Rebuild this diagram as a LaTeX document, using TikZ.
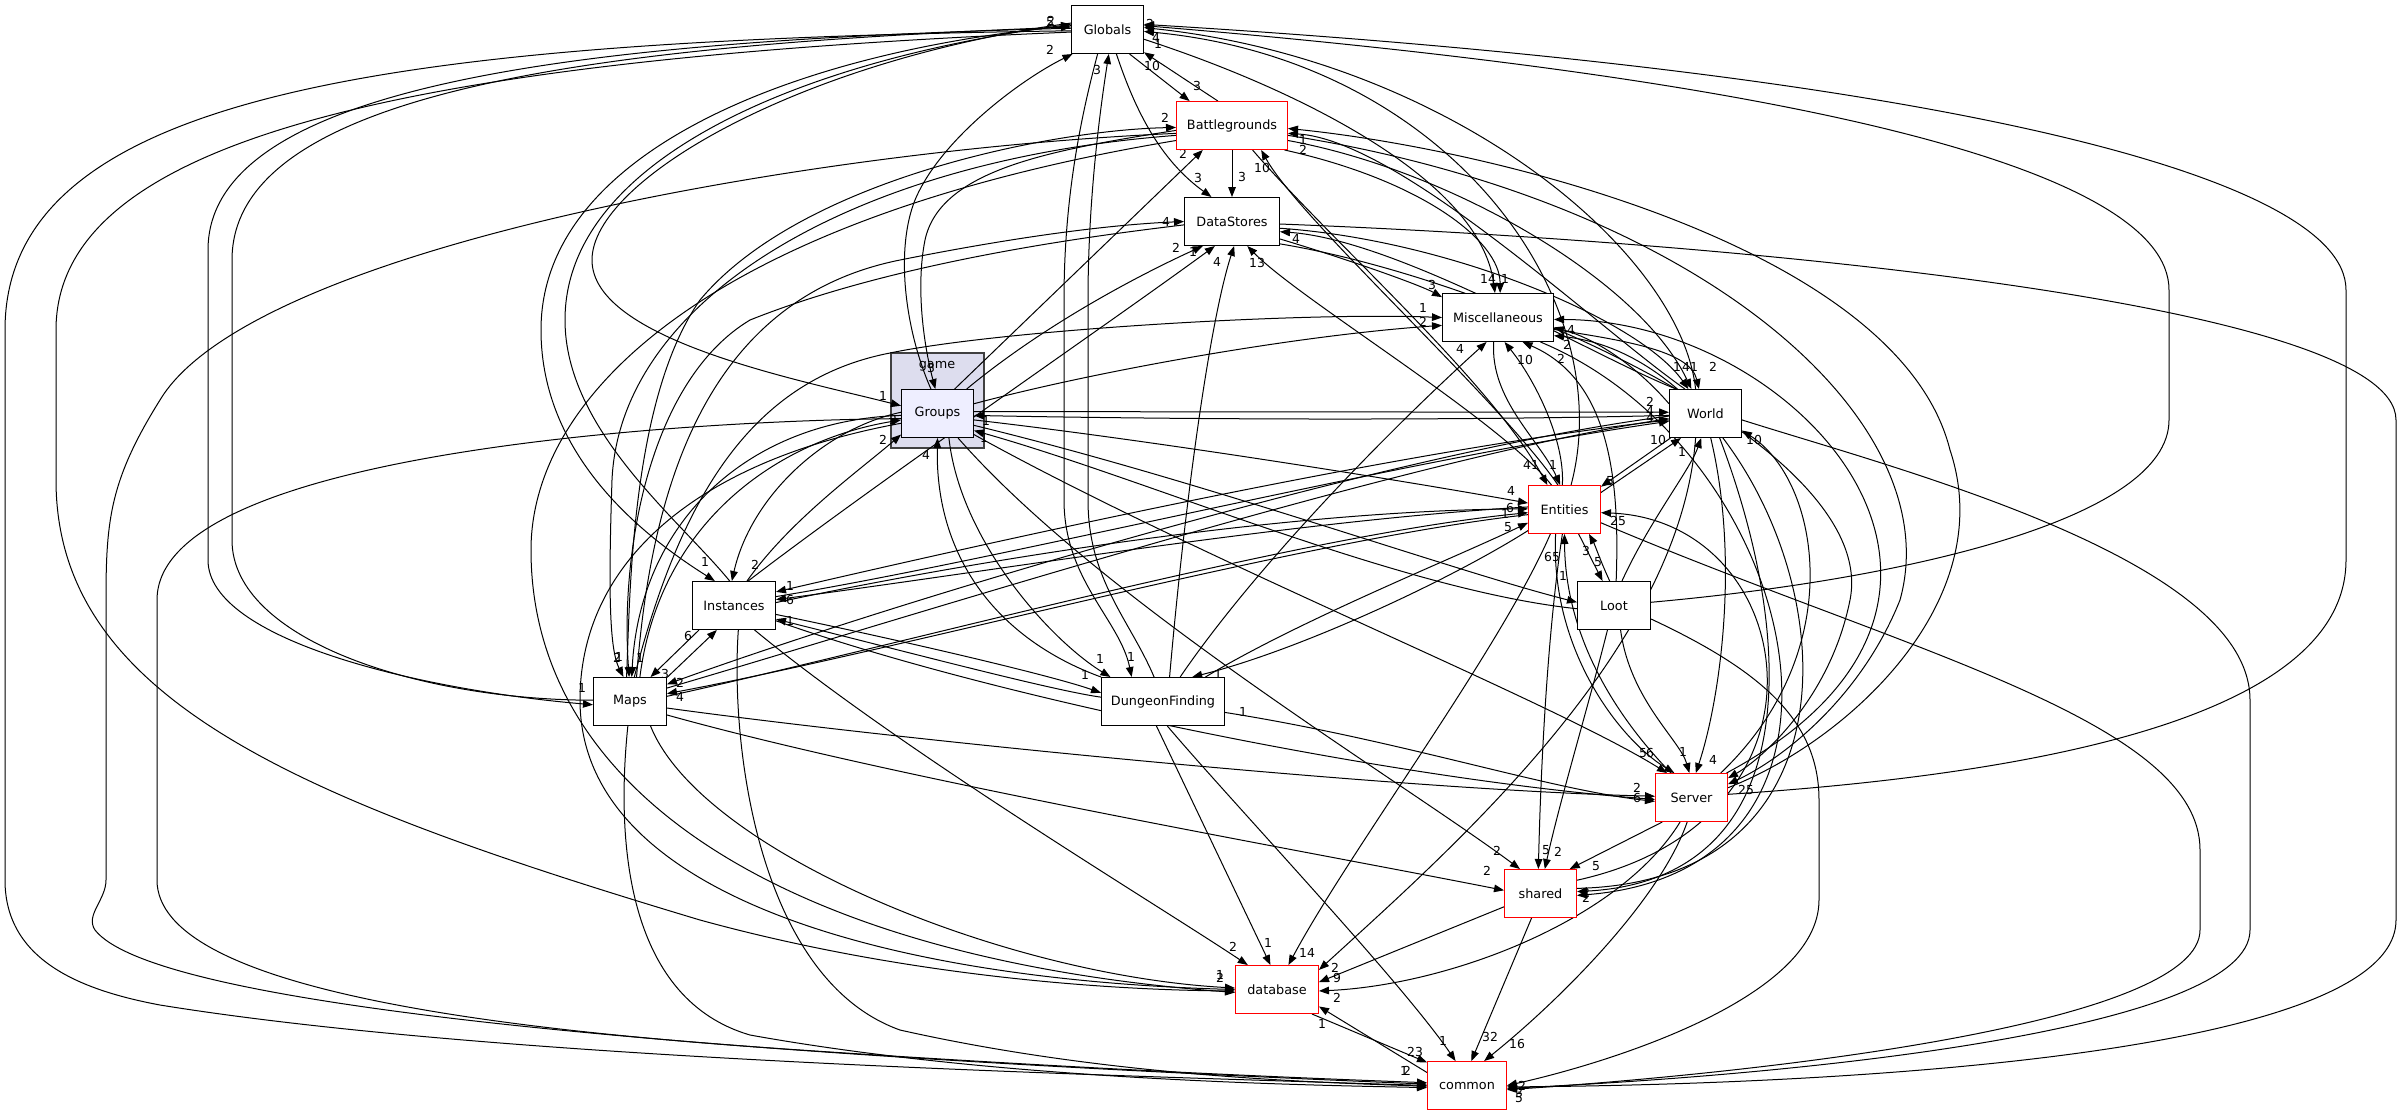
\documentclass[tikz,border=0pt]{standalone}
\usepackage{fontspec}
\setmainfont{DejaVu Sans}
\usetikzlibrary{arrows.meta}
\newcommand\dirfont{\fontsize{6.4}{7.5}\selectfont}
\newcommand\lblfont{\fontsize{6.2}{7}\selectfont}
\definecolor{clusterfill}{RGB}{221,221,238}
\definecolor{focusfill}{RGB}{238,238,255}
\pgfdeclarelayer{fg}
\pgfsetlayers{main,fg}
\begin{document}
\begin{tikzpicture}[x=0.5pt,y=-0.5pt,
  box/.style={draw=black, fill=white, minimum height=24pt, inner sep=0pt, font=\dirfont, line width=0.5pt},
  redbox/.style={box, draw=red},
  e/.style={line width=0.5pt, -{Triangle[length=5pt,width=3.8pt]}},
  lbl/.style={font=\lblfont, inner sep=0pt}]
\useasboundingbox (0,0) rectangle (2400,1115);
\fill[white] (0,0) rectangle (2400,1115);
% cluster
\node[draw=black!75, fill=clusterfill, line width=0.6pt, minimum width=46.5pt, minimum height=47.5pt, inner sep=0pt] (gamebox) at (937.5,400.5) {};
\node[font=\dirfont, inner sep=0pt] (gamelbl) at (937,366) {game};
% nodes
\begin{pgfonlayer}{fg}
\node[box, minimum width=36pt] (G) at (1107.5,29.5) {Globals};
\node[redbox, minimum width=55.5pt] (B) at (1232,125.5) {Battlegrounds};
\node[box, minimum width=47.5pt] (D) at (1232,221.5) {DataStores};
\node[box, minimum width=55.5pt] (M) at (1498,317.5) {Miscellaneous};
\node[box, fill=focusfill, minimum width=36pt] (Gr) at (937.5,413.5) {Groups};
\node[box, minimum width=36pt] (W) at (1705.5,413.5) {World};
\node[redbox, minimum width=36pt] (E) at (1564.5,509.5) {Entities};
\node[box, minimum width=36.5pt] (L) at (1614,605.5) {Loot};
\node[box, minimum width=41.5pt] (I) at (734,605.5) {Instances};
\node[box, minimum width=36.5pt] (Mp) at (630,701.5) {Maps};
\node[box, minimum width=61.5pt] (DF) at (1163,701.5) {DungeonFinding};
\node[redbox, minimum width=36pt] (S) at (1691.5,797.5) {Server};
\node[redbox, minimum width=36pt] (Sh) at (1540.5,893.5) {shared};
\node[redbox, minimum width=41.5pt] (Db) at (1277,989.5) {database};
\node[redbox, minimum width=39.5pt] (C) at (1467,1085.5) {common};
\end{pgfonlayer}

% ---- Globals <-> Battlegrounds / DataStores / DungeonFinding / Groups
\draw[e] (G.-48) -- (B.150);
\draw[e] (B.120) -- (G.-32);
\draw[e] (G.-70) .. controls (1135,110) and (1160,160) .. (D.130);
\draw[e] (B) -- (D);
\draw[e] (G.-112) .. controls (1080,120) and (1064,200) .. (1064,300) -- (1064,500) .. controls (1064,580) and (1120,620) .. (DF.142);
\draw[e] (DF.110) .. controls (1130,620) and (1088,580) .. (1088,500) -- (1088,300) .. controls (1088,200) and (1100,110) .. (G.-87);
\draw[e] (Gr.105) .. controls (905,330) and (895,250) .. (915,200) .. controls (940,140) and (1020,80) .. (G.-145);
\draw[e] (B.185) .. controls (1050,150) and (940,170) .. (925,240) .. controls (915,290) and (925,350) .. (Gr.95);
\draw[e] (Gr.55) -- (B.-140);

% ---- long left curves
\draw[e] (G.178) .. controls (600,40) and (208,80) .. (208,250) -- (208,560) .. controls (208,640) and (420,690) .. (Mp.185);
\draw[e] (Mp.178) .. controls (420,700) and (232,640) .. (232,540) -- (232,260) .. controls (232,90) and (600,45) .. (G.176);
\draw[e] (G.174) .. controls (800,50) and (541,150) .. (541,330) .. controls (541,460) and (650,540) .. (I.128);
\draw[e] (I.100) .. controls (680,520) and (565,430) .. (565,320) .. controls (565,160) and (800,60) .. (G.172);
\draw[e] (G.170) .. controls (800,60) and (592,180) .. (592,260) .. controls (592,340) and (800,380) .. (Gr.168);
\draw[e] (G.182) .. controls (400,40) and (5,90) .. (5,330) -- (5,880) .. controls (5,960) and (80,990) .. (160,1005) .. controls (500,1060) and (1100,1075) .. (C.180);
\draw[e] (G.184) .. controls (400,60) and (56,140) .. (56,330) -- (56,480) .. controls (56,700) and (300,800) .. (700,920) .. controls (900,975) and (1100,990) .. (Db.182);
\draw[e] (B.188) .. controls (800,150) and (250,250) .. (160,400) .. controls (110,480) and (106,520) .. (106,600) -- (106,880) .. controls (106,900) and (85,915) .. (95,930) .. controls (150,1000) and (600,1050) .. (C.178);
\draw[e] (Gr.188) .. controls (700,420) and (157,450) .. (157,600) -- (157,880) .. controls (157,990) and (500,1030) .. (800,1050) .. controls (1100,1070) and (1300,1078) .. (C.176);
\draw[e] (Mp.-95) .. controls (615,850) and (630,1000) .. (750,1035) .. controls (1000,1080) and (1300,1085) .. (C.183);
\draw[e] (I.-80) .. controls (730,750) and (760,980) .. (900,1030) .. controls (1100,1075) and (1300,1082) .. (C.181);

% ---- Maps <-> Battlegrounds / DataStores
\draw[e] (B.190) .. controls (850,160) and (620,300) .. (612,480) .. controls (608,600) and (610,650) .. (Mp.105);
\draw[e] (Mp.98) .. controls (630,600) and (630,400) .. (700,300) .. controls (800,180) and (1050,130) .. (B.182);
\draw[e] (Mp.75) .. controls (650,500) and (700,300) .. (900,260) .. controls (1000,240) and (1100,225) .. (D.180);
\draw[e] (D.184) .. controls (1100,235) and (900,260) .. (750,320) .. controls (650,380) and (620,550) .. (Mp.92);

% ---- Miscellaneous / World tops
\draw[e] (B.-15) .. controls (1450,170) and (1640,280) .. (W.120);
\draw[e] (D.-8) .. controls (1450,240) and (1640,320) .. (W.125);
\draw[e] (M.-12) .. controls (1620,340) and (1690,350) .. (W.105);
\draw[e] (G.-15) .. controls (1300,90) and (1480,180) .. (M.97);
\draw[e] (B.-25) .. controls (1420,180) and (1500,240) .. (M.85);
\draw[e] (D.-20) .. controls (1350,260) and (1420,285) .. (M.160);
\draw[e] (W.112) .. controls (1680,250) and (1450,60) .. (G.3);
\draw[e] (E.75) .. controls (1620,300) and (1450,60) .. (G.-3);
\draw[e] (W.130) .. controls (1600,330) and (1400,140) .. (B.-8);
\draw[e] (W.140) .. controls (1600,360) and (1400,240) .. (D.-12);
\draw[e] (E.105) .. controls (1500,400) and (1300,220) .. (B.-40);
\draw[e] (B.-50) .. controls (1330,240) and (1490,380) .. (E.125);
\draw[e] (E.118) .. controls (1500,420) and (1300,300) .. (D.-58);
\draw[e] (M.-100) .. controls (1490,400) and (1540,440) .. (E.100);
\draw[e] (E.95) .. controls (1565,440) and (1535,380) .. (M.-75);
\draw[e] (DF.55) .. controls (1260,560) and (1400,420) .. (M.-115);
\draw[e] (L.85) .. controls (1620,480) and (1610,380) .. (M.-45);
\draw[e] (W.165) .. controls (1640,370) and (1600,340) .. (M.-10);
\draw[e] (Gr.15) .. controls (1100,370) and (1300,335) .. (M.188);
\draw[e] (Mp.80) .. controls (680,500) and (750,380) .. (890,353) .. controls (1000,330) and (1300,312) .. (M.180);
\draw[e] (Sh.8) .. controls (1950,880) and (1800,360) .. (M.-18);
\draw[e] (S.35) .. controls (2050,600) and (1800,320) .. (M.-2);

% ---- World left
\draw[e] (Gr.3) -- (W.178);
\draw[e] (W.183) .. controls (1400,422) and (1100,418) .. (Gr.-3);
\draw[e] (Mp.20) .. controls (900,620) and (1400,460) .. (W.-172);
\draw[e] (W.-176) .. controls (1400,450) and (900,600) .. (Mp.25);
\draw[e] (I.12) .. controls (1000,560) and (1400,460) .. (W.-168);
\draw[e] (W.-170) .. controls (1400,450) and (1000,540) .. (I.18);

% ---- Entities left
\draw[e] (Gr.-10) .. controls (1150,440) and (1400,480) .. (E.170);
\draw[e] (E.176) .. controls (1300,520) and (1000,570) .. (I.8);
\draw[e] (I.4) .. controls (1000,555) and (1300,510) .. (E.179);
\draw[e] (E.-172) .. controls (1300,540) and (900,650) .. (Mp.12);
\draw[e] (Mp.8) .. controls (900,645) and (1300,535) .. (E.-175);
\draw[e] (E.-150) .. controls (1450,580) and (1300,650) .. (DF.40);
\draw[e] (DF.30) .. controls (1300,620) and (1450,560) .. (E.-160);

% ---- Entities / World / Loot / Server
\draw[e] (W.-145) -- (E.32);
\draw[e] (E.25) -- (W.-135);
\draw[e] (L.72) .. controls (1650,520) and (1690,470) .. (W.-100);
\draw[e] (S.40) .. controls (1850,650) and (1820,480) .. (W.-25);
\draw[e] (W.-78) .. controls (1740,560) and (1720,700) .. (S.80);
\draw[e] (Sh.20) .. controls (1850,820) and (1800,520) .. (E.-5);
\draw[e] (S.130) .. controls (1600,700) and (1565,620) .. (E.-90);
\draw[e] (E.-60) -- (L.115);
\draw[e] (L.100) .. controls (1600,560) and (1595,545) .. (E.-45);
\draw[e] (Gr.-18) .. controls (1200,480) and (1450,570) .. (L.175);
\draw[e] (L.185) .. controls (1400,590) and (1150,480) .. (Gr.-25);
\draw[e] (L.-75) .. controls (1630,700) and (1680,740) .. (S.95);
\draw[e] (E.-110) .. controls (1550,650) and (1620,740) .. (S.125);
\draw[e] (Gr.-30) .. controls (1200,560) and (1550,700) .. (S.135);
\draw[e] (B.-10) .. controls (1700,200) and (1950,420) .. (1900,600) .. controls (1860,700) and (1780,760) .. (S.20);
\draw[e] (S.15) .. controls (1850,740) and (2000,600) .. (1950,450) .. controls (1900,250) and (1500,150) .. (B.-3);
\draw[e] (D.-25) .. controls (1500,280) and (1880,450) .. (1850,600) .. controls (1830,700) and (1760,760) .. (S.28);

% ---- Server left
\draw[e] (Mp.-10) .. controls (900,740) and (1400,790) .. (S.178);
\draw[e] (I.-20) .. controls (1000,700) and (1400,780) .. (S.183);
\draw[e] (DF.-10) .. controls (1400,740) and (1550,790) .. (S.186);

% ---- Groups / Maps / Instances / DungeonFinding
\draw[e] (Mp.68) .. controls (660,520) and (780,440) .. (Gr.190);
\draw[e] (Gr.183) .. controls (750,420) and (640,520) .. (Mp.86);
\draw[e] (I.62) .. controls (790,520) and (860,470) .. (Gr.-150);
\draw[e] (Gr.178) .. controls (820,430) and (750,500) .. (I.95);
\draw[e] (Gr.-65) .. controls (960,540) and (1050,640) .. (DF.155);
\draw[e] (DF.north west) .. controls (1000,640) and (935,560) .. (Gr.-90);
\draw[e] (Gr.40) .. controls (1050,320) and (1150,270) .. (D.-140);
\draw[e] (I.60) .. controls (880,480) and (1100,330) .. (D.-125);
\draw[e] (DF.75) .. controls (1185,500) and (1210,320) .. (D.-85);
\draw[e] (I.-145) -- (Mp.50);
\draw[e] (Mp.33) -- (I.-125);
\draw[e] (I.-12) .. controls (900,640) and (1050,675) .. (DF.172);
\draw[e] (DF.176) .. controls (1050,690) and (900,650) .. (I.-18);

% ---- shared
\draw[e] (Gr.-50) .. controls (1100,600) and (1400,780) .. (Sh.130);
\draw[e] (Mp.-20) .. controls (900,780) and (1300,850) .. (Sh.175);
\draw[e] (E.-95) .. controls (1545,650) and (1540,800) .. (Sh.95);
\draw[e] (L.-105) .. controls (1590,700) and (1560,800) .. (Sh.80);
\draw[e] (S.-140) -- (Sh.40);
\draw[e] (W.-60) .. controls (1800,650) and (1800,880) .. (Sh.3);
\draw[e] (M.-30) .. controls (1800,450) and (1900,870) .. (Sh.-3);

% ---- database
\draw[e] (I.-50) .. controls (900,750) and (1150,900) .. (Db.140);
\draw[e] (DF.-105) -- (Db.105);
\draw[e] (E.-120) .. controls (1500,650) and (1350,850) .. (Db.65);
\draw[e] (W.-112) .. controls (1680,650) and (1450,850) .. (Db.25);
\draw[e] (Sh.-160) -- (Db.10);
\draw[e] (S.-115) .. controls (1620,920) and (1450,985) .. (Db.-2);
\draw[e] (Mp.-50) .. controls (700,850) and (1000,975) .. (Db.178);
\draw[e] (B.195) .. controls (700,220) and (531,400) .. (531,550) .. controls (531,800) and (800,960) .. (Db.184);
\draw[e] (Gr.195) .. controls (700,460) and (580,560) .. (580,700) .. controls (580,900) and (900,980) .. (Db.180);

% ---- common
\draw[e] (Db.-35) -- (C.150);
\draw[e] (C.162) -- (Db.-22);
\draw[e] (DF.-80) .. controls (1230,800) and (1400,980) .. (C.115);
\draw[e] (Sh.-110) -- (C.80);
\draw[e] (S.-100) .. controls (1660,900) and (1560,1000) .. (C.55);
\draw[e] (D.-3) .. controls (1700,240) and (2396,300) .. (2396,420) -- (2396,920) .. controls (2396,1060) and (1800,1085) .. (C.-2);
\draw[e] (W.-10) .. controls (1900,470) and (2250,560) .. (2250,700) -- (2250,930) .. controls (2250,1030) and (1800,1075) .. (C.-4);
\draw[e] (E.-20) .. controls (1900,650) and (2200,720) .. (2200,850) -- (2200,930) .. controls (2200,1020) and (1800,1070) .. (C.-6);
\draw[e] (L.-20) .. controls (1760,670) and (1819,720) .. (1819,800) -- (1819,900) .. controls (1819,1000) and (1600,1065) .. (C.0);

% ---- right long curves to Globals
\draw[e] (S.5) .. controls (2100,770) and (2346,700) .. (2346,560) -- (2346,290) .. controls (2346,170) and (1900,70) .. (G.8);
\draw[e] (L.5) .. controls (1900,580) and (2169,520) .. (2169,420) -- (2169,290) .. controls (2169,170) and (1800,80) .. (G.6);

% ---- labels
\node[lbl] (t1) at (1197,86) {3};
\node[lbl] (t2) at (1152,66) {10};
\node[lbl] (t3) at (1198,178) {3};
\node[lbl] (t4) at (1242,177) {3};
\node[lbl] (t5) at (1131,657) {1};
\node[lbl] (t6) at (1097,70) {3};
\node[lbl] (t7) at (1050,50) {2};
\node[lbl] (t8) at (931,368) {3};
\node[lbl] (t9) at (1183,154) {2};
\node[lbl] (t10) at (582,688) {1};
\node[lbl] (t11) at (1050,22) {5};
\node[lbl] (t12) at (1051,21) {2};
\node[lbl] (t13) at (705,562) {1};
\node[lbl] (t14) at (883,396) {1};
\node[lbl] (t15) at (1404,1071) {1};
\node[lbl] (t16) at (1407,1071) {2};
\node[lbl] (t17) at (1220,975) {1};
\node[lbl] (t18) at (1220,978) {2};
\node[lbl] (t19) at (617,658) {2};
\node[lbl] (t20) at (619,657) {1};
\node[lbl] (t21) at (640,658) {1};
\node[lbl] (t22) at (1165,118) {2};
\node[lbl] (t23) at (1166,222) {4};
\node[lbl] (t24) at (1677,367) {1};
\node[lbl] (t25) at (1690,367) {41};
\node[lbl] (t26) at (1713,367) {2};
\node[lbl] (t27) at (1488,279) {14};
\node[lbl] (t28) at (1505,279) {1};
\node[lbl] (t29) at (1432,285) {3};
\node[lbl] (t30) at (1150,24) {2};
\node[lbl] (t31) at (1156,38) {4};
\node[lbl] (t32) at (1158,44) {1};
\node[lbl] (t33) at (1303,140) {1};
\node[lbl] (t34) at (1303,150) {2};
\node[lbl] (t35) at (1296,239) {4};
\node[lbl] (t36) at (1262,168) {10};
\node[lbl] (t37) at (1531,465) {41};
\node[lbl] (t38) at (1553,465) {1};
\node[lbl] (t39) at (1257,263) {13};
\node[lbl] (t40) at (1525,360) {10};
\node[lbl] (t41) at (1460,349) {4};
\node[lbl] (t42) at (1561,359) {2};
\node[lbl] (t43) at (1571,330) {4};
\node[lbl] (t44) at (1567,345) {2};
\node[lbl] (t45) at (1423,322) {2};
\node[lbl] (t46) at (1423,308) {1};
\node[lbl] (t47) at (1650,402) {2};
\node[lbl] (t48) at (1650,411) {4};
\node[lbl] (t49) at (1650,418) {4};
\node[lbl] (t50) at (986,421) {1};
\node[lbl] (t51) at (984,438) {1};
\node[lbl] (t52) at (680,683) {2};
\node[lbl] (t53) at (680,697) {4};
\node[lbl] (t54) at (790,586) {1};
\node[lbl] (t55) at (790,600) {6};
\node[lbl] (t56) at (790,621) {1};
\node[lbl] (t57) at (1511,491) {4};
\node[lbl] (t58) at (1510,508) {6};
\node[lbl] (t59) at (1505,514) {1};
\node[lbl] (t60) at (1508,527) {5};
\node[lbl] (t61) at (1218,675) {1};
\node[lbl] (t62) at (1610,481) {5};
\node[lbl] (t63) at (1658,440) {10};
\node[lbl] (t64) at (1682,452) {1};
\node[lbl] (t65) at (1754,440) {10};
\node[lbl] (t66) at (1713,760) {4};
\node[lbl] (t67) at (1618,521) {25};
\node[lbl] (t68) at (1552,557) {65};
\node[lbl] (t69) at (1598,562) {5};
\node[lbl] (t70) at (1586,551) {3};
\node[lbl] (t71) at (1563,576) {1};
\node[lbl] (t72) at (1683,752) {1};
\node[lbl] (t73) at (1643,753) {5};
\node[lbl] (t74) at (1650,753) {6};
\node[lbl] (t75) at (1746,790) {25};
\node[lbl] (t76) at (1637,788) {2};
\node[lbl] (t77) at (1637,798) {6};
\node[lbl] (t78) at (893,420) {3};
\node[lbl] (t79) at (883,440) {2};
\node[lbl] (t80) at (755,565) {2};
\node[lbl] (t81) at (1100,659) {1};
\node[lbl] (t82) at (926,455) {4};
\node[lbl] (t83) at (1176,248) {2};
\node[lbl] (t84) at (1193,252) {1};
\node[lbl] (t85) at (1217,262) {4};
\node[lbl] (t86) at (665,674) {3};
\node[lbl] (t87) at (688,636) {6};
\node[lbl] (t88) at (1085,675) {1};
\node[lbl] (t89) at (1243,712) {1};
\node[lbl] (t90) at (1497,851) {2};
\node[lbl] (t91) at (1487,871) {2};
\node[lbl] (t92) at (1546,850) {5};
\node[lbl] (t93) at (1558,852) {2};
\node[lbl] (t94) at (1596,866) {5};
\node[lbl] (t95) at (1586,893) {2};
\node[lbl] (t96) at (1586,898) {2};
\node[lbl] (t97) at (1233,947) {2};
\node[lbl] (t98) at (1268,943) {1};
\node[lbl] (t99) at (1307,953) {14};
\node[lbl] (t100) at (1335,968) {2};
\node[lbl] (t101) at (1337,978) {9};
\node[lbl] (t102) at (1337,998) {2};
\node[lbl] (t103) at (1415,1052) {23};
\node[lbl] (t104) at (1322,1024) {1};
\node[lbl] (t105) at (1443,1041) {1};
\node[lbl] (t106) at (1490,1037) {32};
\node[lbl] (t107) at (1517,1044) {16};
\node[lbl] (t108) at (1522,1086) {2};
\node[lbl] (t109) at (1519,1093) {3};
\node[lbl] (t110) at (1519,1098) {5};
\end{tikzpicture}
\end{document}
